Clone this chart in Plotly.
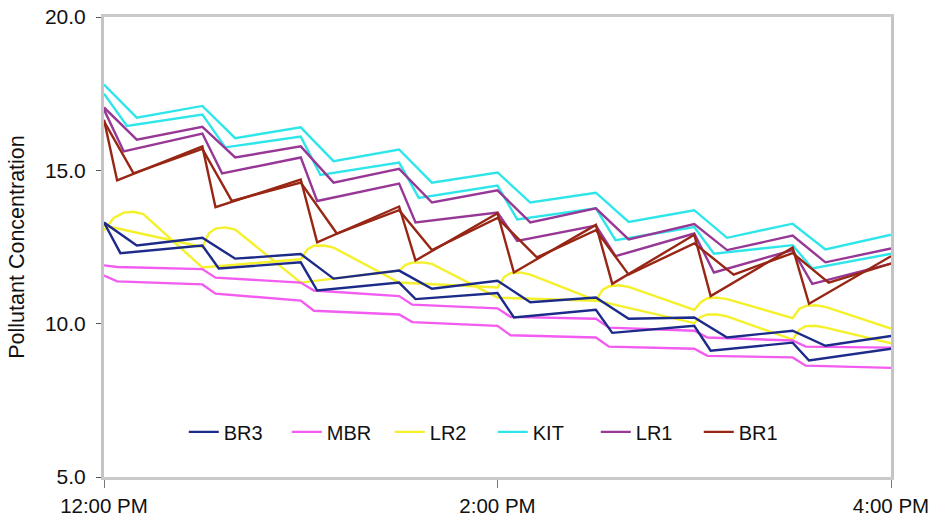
import plotly.graph_objects as go
from datetime import datetime, timedelta

# ---- data: minutes after 12:00 PM and concentration at each corner of the trace ----
# KIT
kit_a_t = [0, 10, 30, 40, 60, 70, 90, 100, 120, 130, 150, 160, 180, 190, 210, 220, 240]
kit_a_v = [17.8, 16.72, 17.1, 16.05, 16.4, 15.3, 15.68, 14.6, 14.93, 13.95, 14.27, 13.32, 13.7, 12.8, 13.26, 12.42, 12.9]
kit_b_t = [0, 7, 30, 37, 60, 66, 90, 96, 120, 126, 150, 156, 180, 186, 210, 216, 240]
kit_b_v = [17.5, 16.45, 16.82, 15.75, 16.1, 14.85, 15.25, 14.1, 14.5, 13.4, 13.76, 12.72, 13.15, 12.28, 12.56, 11.8, 12.28]

# LR1
lr1_a_t = [0, 10, 30, 40, 60, 70, 90, 100, 120, 130, 150, 160, 180, 190, 210, 220, 240]
lr1_a_v = [17.05, 16.0, 16.42, 15.42, 15.78, 14.6, 15.05, 13.95, 14.35, 13.3, 13.76, 12.75, 13.25, 12.4, 12.87, 12.0, 12.45]
lr1_b_t = [0, 6, 30, 36, 60, 65, 90, 95, 120, 126, 150, 156, 180, 186, 210, 216, 240]
lr1_b_v = [16.98, 15.62, 16.2, 14.9, 15.42, 14.0, 14.57, 13.3, 13.62, 12.7, 13.2, 12.2, 12.94, 11.67, 12.4, 11.3, 11.96]

# BR1
br1_a_t = [0, 4, 30, 34, 60, 65, 90, 95, 120, 125, 150, 155, 180, 185, 210, 215, 240]
br1_a_v = [16.65, 14.67, 15.78, 13.8, 14.7, 12.65, 13.82, 12.06, 13.6, 11.67, 13.22, 11.3, 12.9, 10.9, 12.48, 10.65, 12.2]
br1_b_t = [0, 9, 30, 39, 60, 71, 90, 100, 120, 132, 150, 160, 180, 192, 210, 221, 240]
br1_b_v = [16.6, 14.9, 15.7, 14.0, 14.6, 12.94, 13.7, 12.4, 13.45, 12.16, 13.05, 11.6, 12.62, 11.6, 12.3, 11.34, 11.96]

# BR3
br3_a_t = [0, 10, 30, 40, 60, 70, 90, 100, 120, 130, 150, 160, 180, 190, 210, 220, 240]
br3_a_v = [13.3, 12.55, 12.8, 12.12, 12.27, 11.47, 11.73, 11.14, 11.4, 10.7, 10.85, 10.16, 10.2, 9.55, 9.77, 9.28, 9.6]
br3_b_t = [0, 5, 30, 35, 60, 65, 90, 95, 120, 125, 150, 155, 180, 185, 210, 215, 240]
br3_b_v = [13.3, 12.3, 12.55, 11.8, 12.0, 11.08, 11.34, 10.8, 11.0, 10.2, 10.45, 9.7, 9.93, 9.12, 9.38, 8.8, 9.18]

# MBR
mbr_a_t = [0, 4, 30, 34, 60, 64, 90, 94, 120, 124, 150, 154, 180, 184, 210, 214, 240]
mbr_a_v = [11.9, 11.85, 11.78, 11.5, 11.34, 11.08, 10.9, 10.62, 10.5, 10.22, 10.16, 9.87, 9.77, 9.55, 9.45, 9.25, 9.22]
mbr_b_t = [0, 4, 30, 34, 60, 64, 90, 94, 120, 124, 150, 154, 180, 184, 210, 214, 240]
mbr_b_v = [11.57, 11.38, 11.28, 10.98, 10.75, 10.42, 10.3, 10.05, 9.93, 9.62, 9.55, 9.25, 9.18, 8.95, 8.9, 8.63, 8.56]

# LR2
lr2_a_t = [0, 3, 6, 9, 12, 30, 60, 62, 64, 67, 70, 90, 120, 122, 124, 127, 130, 150,
           180, 182, 184, 187, 190, 210, 212, 214, 217, 220, 240]
lr2_a_v = [13.04, 13.45, 13.62, 13.65, 13.57, 11.83, 12.1, 12.42, 12.54, 12.55, 12.48, 11.34, 11.18, 11.52, 11.65, 11.67, 11.6, 10.76,
           10.02, 10.22, 10.3, 10.3, 10.24, 9.48, 9.8, 9.92, 9.93, 9.87, 9.36]
lr2_b_t = [0, 30, 32, 34, 37, 40, 60, 90, 92, 94, 97, 100, 120, 150, 152, 154, 157, 160,
           180, 182, 184, 187, 190, 210, 212, 214, 217, 220, 240]
lr2_b_v = [13.2, 12.5, 12.95, 13.1, 13.14, 13.07, 11.34, 11.73, 11.92, 11.99, 12.0, 11.95, 10.85, 10.75, 11.1, 11.22, 11.25, 11.2,
           10.45, 10.7, 10.83, 10.85, 10.8, 10.18, 10.48, 10.58, 10.6, 10.55, 9.84]

series = [
    ("BR3", "#1c2a8a", [(br3_a_t, br3_a_v), (br3_b_t, br3_b_v)]),
    ("MBR", "#f25cf0", [(mbr_a_t, mbr_a_v), (mbr_b_t, mbr_b_v)]),
    ("LR2", "#f4f02a", [(lr2_a_t, lr2_a_v), (lr2_b_t, lr2_b_v)]),
    ("KIT", "#2ee6ea", [(kit_a_t, kit_a_v), (kit_b_t, kit_b_v)]),
    ("LR1", "#973896", [(lr1_a_t, lr1_a_v), (lr1_b_t, lr1_b_v)]),
    ("BR1", "#982614", [(br1_a_t, br1_a_v), (br1_b_t, br1_b_v)]),
]

x_tick_vals = [0, 120, 240]
x_tick_text = ["12:00 PM", "2:00 PM", "4:00 PM"]
y_tick_vals = [5, 10, 15, 20]
y_tick_text = ["5.0", "10.0", "15.0", "20.0"]

start = datetime(2000, 1, 1, 12, 0)


def clock(mins):
    return [start + timedelta(minutes=m) for m in mins]


fig = go.Figure()

# draw order: light traces first so the darker ones sit on top
draw_order = ["LR2", "KIT", "MBR", "LR1", "BR3", "BR1"]
legend_rank = {name: i for i, (name, _, _) in enumerate(series)}
by_name = {s[0]: s for s in series}
for name in draw_order:
    _, color, lines = by_name[name]
    for k, (t, v) in enumerate(lines):
        fig.add_trace(go.Scatter(
            x=clock(t), y=v, mode="lines", name=name,
            line=dict(color=color, width=2.4),
            legendgroup=name, showlegend=(k == 0),
            legendrank=legend_rank[name] + 1,
        ))

fig.update_layout(
    width=930, height=522,
    margin=dict(l=104, r=39, t=17, b=45),
    paper_bgcolor="white", plot_bgcolor="white",
    font=dict(family="Liberation Sans, Arial, sans-serif", color="#111111"),
    showlegend=True,
    legend=dict(
        orientation="h", x=0.494, xanchor="center", y=0.098, yanchor="middle",
        font=dict(size=20), bgcolor="rgba(0,0,0,0)",
        entrywidth=58, entrywidthmode="pixels", traceorder="normal",
    ),
)

fig.update_xaxes(
    type="date", automargin=False, ticklabeloverflow="allow",
    range=[start, start + timedelta(minutes=240)],
    tickvals=clock(x_tick_vals), ticktext=x_tick_text,
    ticks="outside", ticklen=8, tickcolor="#777777", tickwidth=1,
    tickfont=dict(size=20.5),
    showgrid=False, zeroline=False,
    showline=True, linecolor="#c9c9c9", linewidth=3, mirror=True,
)
fig.update_yaxes(
    range=[5, 20], automargin=False,
    tickvals=y_tick_vals, ticktext=y_tick_text,
    ticks="outside", ticklen=5, tickcolor="#555555", tickwidth=1,
    tickfont=dict(size=21),
    ticklabelstandoff=6,
    showgrid=False, zeroline=False,
    showline=True, linecolor="#c4c4c4", linewidth=3, mirror=True,
    title=dict(text="Pollutant Concentration", font=dict(size=21.5), standoff=15),
)

fig.write_html("out.html")
